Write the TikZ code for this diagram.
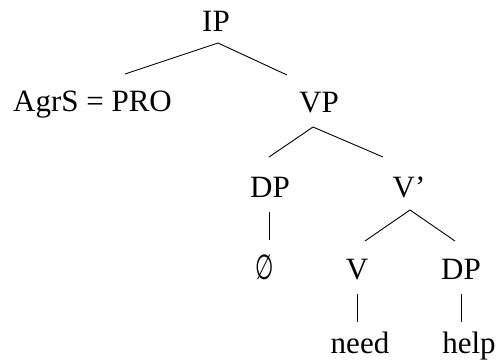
\documentclass[tikz,border=0pt]{standalone}
\usepackage{fontspec}
\usepackage{graphicx}
\setmainfont{Liberation Serif}
\newfontfamily\symfont{DejaVu Sans}
\begin{document}
\begin{tikzpicture}[x=1pt,y=-1pt,
  lbl/.style={anchor=base,inner sep=0pt,font=\fontsize{31}{36}\selectfont},
  branch/.style={draw=black,line width=0.9pt}]
\useasboundingbox (0,0) rectangle (499,360);
% labels, placed by their baselines
\node[lbl] (ip)   at (216,31)  {IP};
\node[lbl] (agr)  at (92.5,111) {AgrS = PRO};
\node[lbl] (vp)   at (319,112) {VP};
\node[lbl] (dpa)  at (270,197) {DP};
\node[lbl] (vbar) at (409,197) {V’};
\node[lbl] (null) at (265,279) {\scalebox{0.68}[1.12]{\symfont ∅}};
\node[lbl] (v)    at (357,279) {V};
\node[lbl] (dpb)  at (461,279) {DP};
\node[lbl] (need) at (360,353) {need};
\node[lbl] (help) at (469,353) {help};
% branches
\draw[branch] ([xshift=2pt,yshift=-12pt]ip.base) -- ([xshift=32.5pt,yshift=37pt]agr.base);
\draw[branch] ([xshift=2pt,yshift=-12pt]ip.base) -- ([xshift=-32pt,yshift=37pt]vp.base);
\draw[branch] ([xshift=-6pt,yshift=-15pt]vp.base) -- ([xshift=-1pt,yshift=40pt]dpa.base);
\draw[branch] ([xshift=-6pt,yshift=-15pt]vp.base) -- ([xshift=-26pt,yshift=40pt]vbar.base);
\draw[branch] ([xshift=-1pt,yshift=-15pt]dpa.base) -- ([xshift=4pt,yshift=39pt]null.base);
\draw[branch] ([xshift=1pt,yshift=-13pt]vbar.base) -- ([xshift=8pt,yshift=38pt]v.base);
\draw[branch] ([xshift=1pt,yshift=-13pt]vbar.base) -- ([xshift=-6pt,yshift=38pt]dpb.base);
\draw[branch] ([yshift=-15pt]v.base) -- ([xshift=-3pt,yshift=31pt]need.base);
\draw[branch] ([yshift=-15pt]dpb.base) -- ([xshift=-8pt,yshift=31pt]help.base);
\end{tikzpicture}
\end{document}
